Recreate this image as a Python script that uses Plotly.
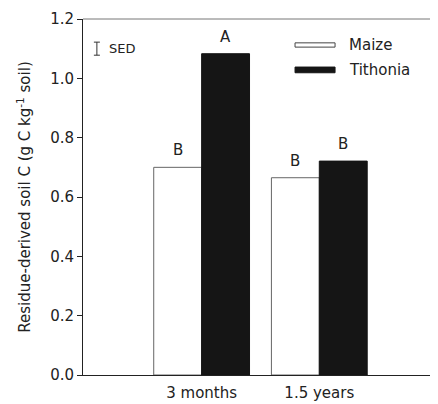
import plotly.graph_objects as go

periods = ["3 months", "1.5 years"]
maize = [0.70, 0.665]
tithonia = [1.083, 0.721]
maize_letters = ["B", "B"]
tithonia_letters = ["A", "B"]
sed_y = 1.10
sed = 0.022

FONT = "DejaVu Sans, Arial, sans-serif"
pos = list(range(len(periods)))

fig = go.Figure()

fig.add_trace(go.Bar(
    x=pos, y=maize, name="Maize",
    marker=dict(color="white", line=dict(color="#666666", width=1)),
    showlegend=False
))
fig.add_trace(go.Bar(
    x=pos, y=tithonia, name="Tithonia",
    marker=dict(color="#151515", line=dict(color="#151515", width=1)),
    showlegend=False
))

# SED bar
fig.add_trace(go.Scatter(
    x=[-0.89], y=[sed_y], mode="markers",
    marker=dict(size=1, color="rgba(0,0,0,0)"),
    error_y=dict(type="data", array=[sed], color="#333333", thickness=1, width=3),
    showlegend=False, hoverinfo="skip"
))
fig.add_annotation(x=-0.80, y=sed_y, text="SED", showarrow=False,
                   xanchor="left", yanchor="middle", font=dict(size=13, color="#222222"))

# significance letters
for i in pos:
    fig.add_annotation(x=i - 0.204, y=maize[i], text=maize_letters[i], showarrow=False,
                       yanchor="bottom", yshift=6, font=dict(size=15, color="#222222"))
    fig.add_annotation(x=i + 0.204, y=tithonia[i], text=tithonia_letters[i], showarrow=False,
                       yanchor="bottom", yshift=6, font=dict(size=15, color="#222222"))

# legend drawn by hand
legend_items = [("Maize", "white", "#444444", 0.927, 0.006), ("Tithonia", "#151515", "#151515", 0.857, 0.008)]
for name, fill, edge, yy, h in legend_items:
    fig.add_shape(type="rect", xref="paper", yref="paper",
                  x0=0.599, x1=0.712, y0=yy - h, y1=yy + h,
                  fillcolor=fill, line=dict(color=edge, width=1))
    fig.add_annotation(xref="paper", yref="paper", x=0.745, y=yy, text=name,
                       showarrow=False, xanchor="left", yanchor="middle",
                       font=dict(size=15, color="#222222"))

# top border
fig.add_shape(type="line", xref="paper", yref="paper", x0=0, x1=1, y0=1, y1=1,
              line=dict(color="#777777", width=1))

# page body has an 8px margin, so the figure is drawn 8px smaller
fig.update_layout(
    width=430, height=396,
    margin=dict(l=75, r=1, t=11, b=29),
    plot_bgcolor="white", paper_bgcolor="white",
    barmode="group", bargap=0.186, bargroupgap=0,
    font=dict(family=FONT, size=15, color="#222222"),
    xaxis=dict(range=[-1.008, 2.0], tickvals=pos, ticktext=periods, automargin=False,
               showline=True, linecolor="#222222", linewidth=1,
               ticks="outside", ticklen=4, tickcolor="rgba(0,0,0,0)",
               showgrid=False, zeroline=False),
    yaxis=dict(range=[0, 1.2], dtick=0.2, tickformat=".1f", showline=True, automargin=False,
               linecolor="#222222", linewidth=1, ticks="outside", ticklen=5,
               tickcolor="#222222", showgrid=False, zeroline=False,
               title=dict(text="Residue-derived soil C (g C kg<sup>-1</sup> soil)",
                          standoff=15, font=dict(size=15))),
)

fig.write_html("out.html")
